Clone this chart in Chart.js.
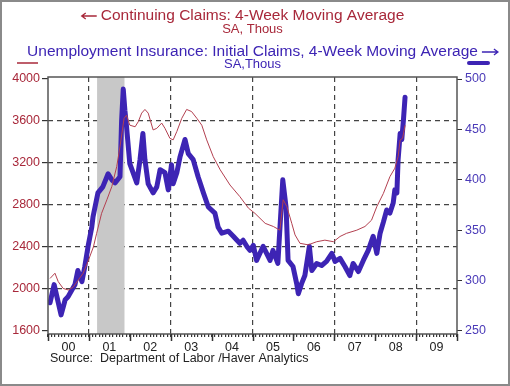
<!DOCTYPE html>
<html>
<head>
<meta charset="utf-8">
<script src="https://cdn.jsdelivr.net/npm/chart.js@4"></script>
<style>
  html, body { margin: 0; padding: 0; background: #fff; }
  #wrap { width: 510px; height: 386px; position: relative; }
</style>
</head>
<body>
<div id="wrap"><canvas id="myChart"></canvas></div>
<script>
// Continuing claims, 4-week moving average (SA, thous) - left axis
const ccDates = [2000.05, 2000.17, 2000.25, 2000.37, 2000.50, 2000.62, 2000.74, 2000.86, 2000.99,
  2001.11, 2001.19, 2001.31, 2001.44, 2001.56, 2001.68, 2001.76, 2001.86, 2001.92,
  2002.00, 2002.13, 2002.21, 2002.29, 2002.37, 2002.45, 2002.57, 2002.66, 2002.78, 2002.86, 2002.98,
  2003.06, 2003.15, 2003.27, 2003.39, 2003.51, 2003.64, 2003.76, 2003.88,
  2004.04, 2004.21, 2004.45, 2004.69, 2004.90,
  2005.06, 2005.31, 2005.51, 2005.67, 2005.75, 2005.84, 2005.96,
  2006.04, 2006.16, 2006.36, 2006.57, 2006.77, 2006.98,
  2007.14, 2007.30, 2007.55, 2007.75, 2007.91,
  2008.04, 2008.20, 2008.36, 2008.48, 2008.56, 2008.61, 2008.67, 2008.73];
const ccValues = [2100, 2150, 2070, 2005, 1990, 2020, 2085, 2150, 2275,
  2400, 2530, 2720, 2850, 2975, 3165, 3355, 3625, 3655,
  3560, 3545, 3595, 3675, 3710, 3675, 3515, 3530, 3580, 3530, 3435,
  3420, 3500, 3625, 3710, 3690, 3625, 3560, 3420,
  3260, 3135, 2990, 2880, 2770,
  2720, 2625, 2595, 2560, 2850, 2785, 2625,
  2515, 2435, 2420, 2450, 2465, 2450,
  2500, 2530, 2560, 2595, 2655,
  2785, 2910, 3070, 3150, 3260, 3420, 3435, 3560];

// Unemployment insurance initial claims, 4-week moving average (SA, thous) - right axis
const icDates = [2000.05, 2000.15, 2000.32, 2000.42, 2000.49, 2000.66, 2000.73, 2000.83, 2000.90, 2000.98,
  2001.07, 2001.10, 2001.22, 2001.34, 2001.47, 2001.56, 2001.64, 2001.76, 2001.80, 2001.84, 2001.88, 2001.92,
  2002.00, 2002.17, 2002.25, 2002.32, 2002.37, 2002.45, 2002.57, 2002.66, 2002.74, 2002.86, 2002.94,
  2003.02, 2003.06, 2003.15, 2003.23, 2003.35, 2003.43, 2003.55, 2003.67, 2003.80, 2003.92,
  2004.08, 2004.16, 2004.25, 2004.41, 2004.53, 2004.69, 2004.77, 2004.86, 2004.94,
  2005.02, 2005.10, 2005.26, 2005.43, 2005.50, 2005.62, 2005.74, 2005.82, 2005.87, 2005.99,
  2006.08, 2006.12, 2006.20, 2006.28, 2006.39, 2006.45, 2006.57, 2006.69, 2006.81, 2006.94,
  2007.02, 2007.14, 2007.26, 2007.38, 2007.46, 2007.59, 2007.71, 2007.83, 2007.95,
  2008.04, 2008.12, 2008.20, 2008.28, 2008.36, 2008.44, 2008.48, 2008.53, 2008.56, 2008.61, 2008.65, 2008.69, 2008.73];
const icValues = [278, 296, 266, 281, 284, 296, 310, 299, 314, 334,
  353, 363, 387, 393, 406, 400, 397, 403, 459, 490, 469, 453,
  416, 397, 420, 446, 420, 396, 387, 393, 410, 407, 390,
  415, 396, 407, 423, 440, 426, 420, 403, 387, 373,
  367, 353, 347, 349, 344, 337, 340, 334, 330,
  335, 320, 334, 320, 330, 317, 400, 373, 320, 314,
  297, 287, 297, 305, 334, 310, 317, 315, 319, 327,
  319, 322, 314, 305, 317, 309, 320, 330, 344,
  327, 347, 358, 370, 367, 377, 390, 387, 420, 446, 440, 459, 482];

const leftTicks = [1600, 2000, 2400, 2800, 3200, 3600, 4000];
const rightTicks = [250, 300, 350, 400, 450, 500];
const yearLabels = ['00', '01', '02', '03', '04', '05', '06', '07', '08', '09'];
const recession = [2001.2, 2001.87];

const RED = '#a8283a';
const BLUE = '#3d24b4';
const FONT = '"Liberation Sans", Arial, sans-serif';
Chart.defaults.font.family = FONT;

function pairs(xs, ys) {
  return xs.map((x, i) => ({ x: x, y: ys[i] }));
}

// background, recession bar, frame and all the header text
const decor = {
  id: 'decor',
  beforeDraw(chart) {
    const c = chart.ctx;
    c.save();
    c.fillStyle = '#fff';
    c.fillRect(0, 0, chart.width, chart.height);
    c.restore();
  },
  beforeDatasetsDraw(chart) {
    const c = chart.ctx, a = chart.chartArea, x = chart.scales.x;
    const x1 = x.getPixelForValue(recession[0]);
    const x2 = x.getPixelForValue(recession[1]);
    c.save();
    c.fillStyle = '#c8c8c8';
    c.fillRect(x1, a.top, x2 - x1, a.bottom - a.top);
    c.restore();
  },
  afterDraw(chart) {
    const c = chart.ctx, a = chart.chartArea, x = chart.scales.x;
    c.save();
    // plot frame
    c.strokeStyle = '#555';
    c.lineWidth = 1.5;
    c.strokeRect(a.left, a.top, a.right - a.left, a.bottom - a.top);
    // year ticks (longer than the monthly ones)
    c.strokeStyle = '#333';
    c.lineWidth = 1.5;
    for (let i = 0; i <= yearLabels.length; i++) {
      const px = Math.round(x.getPixelForValue(2000 + i)) + 0.5;
      c.beginPath();
      c.moveTo(px, a.bottom);
      c.lineTo(px, a.bottom + 7);
      c.stroke();
    }
    // outer border
    c.strokeStyle = '#8a8a8a';
    c.lineWidth = 2;
    c.strokeRect(1, 1, chart.width - 2, chart.height - 2);

    const cx = (a.left + a.right) / 2;
    c.textAlign = 'center';
    c.textBaseline = 'middle';
    // first title (red, left axis)
    c.fillStyle = RED;
    c.font = '15.5px ' + FONT;
    const t1 = 'Continuing Claims: 4-Week Moving Average';
    c.fillText(t1, cx, 16);
    const w1 = c.measureText(t1).width;
    c.font = '13px ' + FONT;
    c.fillText('SA, Thous', cx, 29);
    // left arrow
    c.strokeStyle = RED;
    c.lineWidth = 1.3;
    let ax = cx - w1 / 2 - 4;
    c.beginPath();
    c.moveTo(ax, 16); c.lineTo(ax - 15, 16);
    c.moveTo(ax - 11, 13); c.lineTo(ax - 15, 16); c.lineTo(ax - 11, 19);
    c.stroke();

    // second title (blue, right axis)
    c.fillStyle = BLUE;
    c.font = '15.5px ' + FONT;
    const t2 = 'Unemployment Insurance: Initial Claims, 4-Week Moving Average';
    c.fillText(t2, cx, 52);
    const w2 = c.measureText(t2).width;
    c.font = '13px ' + FONT;
    c.fillText('SA,Thous', cx, 64);
    c.strokeStyle = BLUE;
    ax = cx + w2 / 2 + 4;
    c.beginPath();
    c.moveTo(ax, 52); c.lineTo(ax + 16, 52);
    c.moveTo(ax + 12, 49); c.lineTo(ax + 16, 52); c.lineTo(ax + 12, 55);
    c.stroke();

    // series keys
    c.strokeStyle = RED;
    c.lineWidth = 1.5;
    c.beginPath(); c.moveTo(17, 63); c.lineTo(38, 63); c.stroke();
    c.strokeStyle = BLUE;
    c.lineWidth = 4;
    c.lineCap = 'round';
    c.beginPath(); c.moveTo(469, 63); c.lineTo(488, 63); c.stroke();

    // source line
    c.fillStyle = '#222';
    c.textAlign = 'left';
    c.font = '12.5px ' + FONT;
    c.fillText('Source:  Department of Labor /Haver Analytics', 50, 359);
    c.restore();
  }
};

var canvas = document.getElementById('myChart');
var ctx = canvas.getContext('2d');
const myChart = new Chart(ctx, {
  type: 'line',
  data: {
    datasets: [
      {
        label: 'Continuing Claims: 4-Week Moving Average',
        data: pairs(ccDates, ccValues),
        yAxisID: 'y',
        borderColor: '#b34050',
        borderWidth: 1,
        pointRadius: 0,
        tension: 0
      },
      {
        label: 'Unemployment Insurance: Initial Claims, 4-Week Moving Average',
        data: pairs(icDates, icValues),
        yAxisID: 'y1',
        borderColor: BLUE,
        borderWidth: 5,
        borderJoinStyle: 'round',
        borderCapStyle: 'round',
        pointRadius: 0,
        tension: 0
      }
    ]
  },
  plugins: [decor],
  options: {
    responsive: true,
    maintainAspectRatio: false,
    animation: false,
    layout: { padding: { top: 77, left: 0, right: 0, bottom: 0 } },
    plugins: {
      legend: { display: false },
      tooltip: { enabled: false }
    },
    scales: {
      x: {
        type: 'linear',
        min: 2000,
        max: 2010,
        afterBuildTicks: function (scale) {
          const t = [];
          for (let m = 0; m <= yearLabels.length * 12; m++) t.push({ value: 2000 + m / 12 });
          scale.ticks = t;
        },
        afterFit: function (scale) { scale.height = 52; },
        ticks: {
          autoSkip: false,
          maxRotation: 0,
          padding: 3,
          color: '#222',
          font: { size: 12.5 },
          callback: function (value, index) {
            return index % 12 === 6 ? yearLabels[Math.floor(index / 12)] : '';
          }
        },
        grid: {
          color: ctx => (ctx.index % 24 === 12 ? '#444' : 'rgba(0,0,0,0)'),
          lineWidth: 1.2,
          tickColor: '#333',
          tickLength: 3
        },
        border: { display: false, dash: [5, 4] }
      },
      y: {
        position: 'left',
        min: 1571,
        max: 4019,
        afterBuildTicks: function (scale) {
          scale.ticks = leftTicks.map(v => ({ value: v }));
        },
        afterFit: function (scale) { scale.width = 48; },
        ticks: {
          color: RED,
          padding: 2,
          font: { size: 12.5 },
          callback: v => String(v)
        },
        grid: {
          color: ctx => (ctx.tick && ctx.tick.value > 1600 && ctx.tick.value < 4000 ? '#444' : 'rgba(0,0,0,0)'),
          lineWidth: 1.2,
          tickColor: '#333',
          tickLength: 6
        },
        border: { display: false, dash: [5, 4] }
      },
      y1: {
        position: 'right',
        min: 247,
        max: 502,
        afterBuildTicks: function (scale) {
          scale.ticks = rightTicks.map(v => ({ value: v }));
        },
        afterFit: function (scale) { scale.width = 53; },
        ticks: {
          color: '#4a3ab8',
          padding: 3,
          font: { size: 12.5 },
          callback: v => String(v)
        },
        grid: {
          drawOnChartArea: false,
          tickColor: '#333',
          tickLength: 5
        },
        border: { display: false }
      }
    }
  }
});
</script>
</body>
</html>
